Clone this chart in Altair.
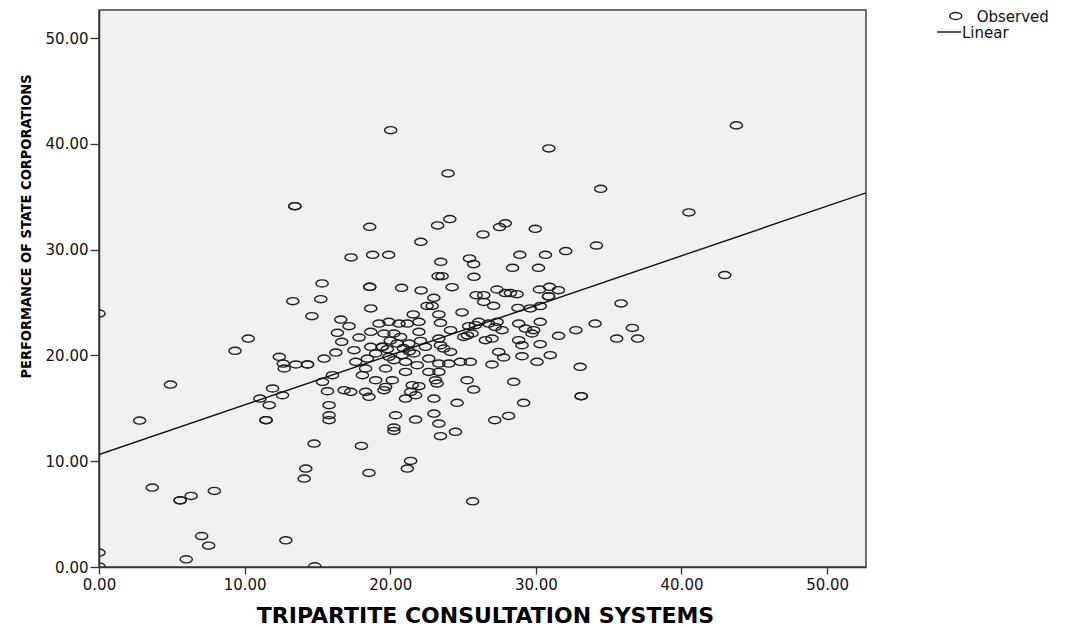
import altair as alt
import pandas as pd

tcs = [
    20.03, 43.77, 30.89, 23.97, 34.45, 40.51, 42.97, 13.45, 13.45, 18.59,
    23.25, 24.09, 22.10, 26.37, 27.51, 27.90, 29.96, 34.16, 17.31, 18.79,
    19.89, 23.47, 25.44, 25.73, 25.75, 23.29, 23.56, 28.90, 30.66, 32.05,
    28.40, 30.18, 15.32, 15.23, 13.31, 18.59, 18.59, 20.78, 22.12, 24.25,
    22.99, 22.53, 22.88, 18.66, 24.93, 14.62, 16.60, 21.58, 23.34, 25.90,
    27.33, 27.90, 28.25, 28.70, 26.42, 26.42, 27.10, 30.25, 30.94, 31.55,
    30.87, 30.87, 28.77, 29.62, 30.30, 35.85,
    17.17, 16.37, 17.86, 16.67, 18.66, 19.23, 19.91, 20.60, 21.17, 21.97,
    23.45, 24.14, 25.39, 25.85, 19.57, 20.25, 20.71, 21.97, 22.08, 21.28,
    20.48, 19.45, 19.45, 18.66, 17.51, 16.26, 15.46, 14.32, 14.32, 13.52,
    12.65, 12.72, 12.38, 17.63, 18.43, 19.00, 19.91, 20.82, 21.62, 22.42,
    23.45, 23.68, 24.14, 25.05, 25.62, 22.65, 23.34, 24.02, 24.82, 25.50,
    21.85, 21.05, 20.25, 19.68, 18.31, 18.09, 16.03, 15.35, 19.00, 20.14,
    19.68, 19.57, 18.54, 18.31, 17.29, 16.83, 15.69, 12.60, 21.05, 22.65,
    23.34, 23.11, 23.22, 21.51, 21.97, 21.40, 21.74, 21.05, 23.00, 24.59,
    25.28, 25.73, 15.80, 15.80, 15.80, 20.37, 21.74, 23.00, 23.34, 23.45,
    24.48, 20.25, 20.25, 14.77, 18.02, 21.40, 21.17, 14.20, 18.54, 14.09,
    26.08, 26.76, 27.34, 27.68, 26.54, 26.99, 28.82, 29.28, 29.85, 29.73,
    30.30, 28.82, 29.05, 30.30, 31.56, 32.75, 34.07, 35.55, 36.63, 36.99,
    27.45, 27.79, 29.05, 30.08, 30.99, 26.99, 33.04, 28.48, 29.16, 33.11,
    33.11, 28.13, 27.18,
    0.00, 9.34, 10.25, 4.91, 2.79, 3.66, 5.57, 5.57, 6.33, 7.92,
    7.05, 7.53, 5.99, 0.00, 0.00, 12.83, 14.82, 11.47, 11.47, 11.69,
    11.05, 11.92, 25.66, 27.20, 25.30, 23.34, 20.00, 19.80, 20.90, 21.30,
]
perf = [
    41.31, 41.76, 39.58, 37.22, 35.76, 33.53, 27.60, 34.12, 34.12, 32.17,
    32.30, 32.90, 30.75, 31.45, 32.14, 32.50, 31.98, 30.40, 29.27, 29.52,
    29.52, 28.86, 29.18, 28.64, 27.44, 27.50, 27.50, 29.52, 29.52, 29.87,
    28.29, 28.29, 26.81, 25.33, 25.14, 26.49, 26.49, 26.40, 26.15, 26.46,
    25.45, 24.69, 24.69, 24.45, 24.07, 23.72, 23.40, 23.88, 23.88, 25.70,
    26.24, 25.90, 25.90, 25.80, 25.70, 25.07, 24.70, 26.24, 26.49, 26.18,
    25.60, 25.60, 24.50, 24.45, 24.67, 24.92,
    22.77, 22.14, 21.70, 21.29, 22.24, 23.02, 23.18, 23.02, 23.02, 23.18,
    23.09, 22.39, 22.77, 22.87, 22.08, 22.08, 21.76, 22.24, 21.38, 21.13,
    21.13, 20.82, 20.82, 20.82, 20.50, 20.28, 19.71, 19.15, 19.15, 19.15,
    19.24, 18.77, 19.87, 19.40, 19.71, 20.19, 19.87, 20.03, 20.19, 20.82,
    20.97, 20.66, 20.34, 21.76, 22.08, 19.71, 19.24, 19.24, 19.40, 19.40,
    19.08, 19.40, 19.56, 18.77, 18.77, 18.14, 18.14, 17.51, 17.66, 17.66,
    17.03, 16.72, 16.09, 16.56, 16.56, 16.72, 16.62, 16.24, 18.45, 18.45,
    18.45, 17.66, 17.35, 17.19, 17.10, 16.56, 16.24, 15.93, 15.93, 15.52,
    17.66, 16.78, 15.30, 14.35, 13.88, 14.35, 13.94, 14.51, 13.56, 12.37,
    12.78, 13.19, 12.87, 11.67, 11.45, 10.03, 9.31, 9.31, 8.90, 8.36,
    23.18, 23.02, 23.18, 22.39, 21.45, 21.60, 23.02, 22.55, 22.39, 22.08,
    23.18, 21.45, 20.97, 21.07, 21.86, 22.39, 23.02, 21.60, 22.61, 21.60,
    20.34, 19.81, 19.93, 19.40, 20.03, 19.15, 18.93, 17.51, 15.52, 16.15,
    16.15, 14.29, 13.88,
    23.97, 20.44, 21.60, 17.25, 13.85, 7.51, 6.31, 6.31, 6.72, 7.19,
    2.93, 2.02, 0.73, 1.36, 0.05, 2.52, 0.07, 13.88, 13.88, 15.30,
    15.93, 16.88, 6.21, 22.70, 21.90, 21.60, 21.40, 20.60, 20.70, 20.40,
]

# ---- fitted line ----
fit_x = [0.0, 52.67]
fit_y = [10.63, 35.38]

x_ticks = [0, 10, 20, 30, 40, 50]
y_ticks = [0, 10, 20, 30, 40, 50]
legend_labels = ["Observed", "Linear"]

obs = pd.DataFrame({"tcs": tcs, "perf": perf})
fit = pd.DataFrame({"tcs": fit_x, "perf": fit_y})

W, H = 767, 557
# wide ellipse outline drawn with cubic curves (half-width 1, half-height 0.58)
ELLIPSE = ("M-1,0C-1,-0.32,-0.552,-0.58,0,-0.58C0.552,-0.58,1,-0.32,1,0"
           "C1,0.32,0.552,0.58,0,0.58C-0.552,0.58,-1,0.32,-1,0Z")

xscale = alt.Scale(domain=[0, 52.67], nice=False, zero=False)
yscale = alt.Scale(domain=[0, 52.67], nice=False, zero=False)

xaxis = alt.Axis(
    values=x_ticks, format=".2f", grid=False, tickSize=7, labelPadding=3,
    labelFlush=False, labelOverlap=False,
    labelFont="DejaVu Sans", labelFontSize=15, labelColor="#111111",
    domainColor="#333333", domainWidth=1.5, tickColor="#333333", tickWidth=1.3,
    title="TRIPARTITE CONSULTATION SYSTEMS", titleFont="DejaVu Sans",
    titleFontSize=22, titleFontWeight="bold", titleColor="#000000",
    titleX=386, titleY=55, titleAlign="center", titleBaseline="alphabetic",
)
yaxis = alt.Axis(
    values=y_ticks, format=".2f", grid=False, tickSize=9, labelPadding=2,
    labelFlush=False, labelOverlap=False,
    labelFont="DejaVu Sans", labelFontSize=15, labelColor="#111111",
    domainColor="#333333", domainWidth=1.5, tickColor="#333333", tickWidth=1.3,
    title="PERFORMANCE OF STATE CORPORATIONS",
    titleFont="DejaVu Sans Condensed, Liberation Sans, sans-serif",
    titleFontSize=14.5, titleFontWeight="bold", titleColor="#000000",
    titleAngle=270, titleX=-69, titleY=216, titleAlign="center",
    titleBaseline="alphabetic",
)

points = alt.Chart(obs).mark_point(
    shape=ELLIPSE, size=150, filled=False, stroke="#1e1e1e", strokeWidth=1.4,
    opacity=1, clip=True,
).encode(
    x=alt.X("tcs:Q", scale=xscale, axis=xaxis),
    y=alt.Y("perf:Q", scale=yscale, axis=yaxis),
)

line = alt.Chart(fit).mark_line(color="#111111", strokeWidth=1.4, clip=True).encode(
    x=alt.X("tcs:Q", scale=xscale),
    y=alt.Y("perf:Q", scale=yscale),
)

leg1 = pd.DataFrame({"label": [legend_labels[0]]})
leg2 = pd.DataFrame({"label": [legend_labels[1]]})

leg_pt = alt.Chart(leg1).mark_point(
    shape=ELLIPSE, size=150, filled=False, stroke="#1e1e1e", strokeWidth=1.4, opacity=1
).encode(x=alt.value(856.7), y=alt.value(6))
leg_t1 = alt.Chart(leg1).mark_text(
    align="left", baseline="middle", font="DejaVu Sans", fontSize=15, color="#111111"
).encode(x=alt.value(877.7), y=alt.value(6.5), text="label:N")
leg_rule = alt.Chart(leg2).mark_rule(color="#111111", strokeWidth=1.4).encode(
    x=alt.value(838), x2=alt.value(862), y=alt.value(22)
)
leg_t2 = alt.Chart(leg2).mark_text(
    align="left", baseline="middle", font="DejaVu Sans", fontSize=15, color="#111111"
).encode(x=alt.value(863), y=alt.value(22.5), text="label:N")

chart = alt.layer(points, line, leg_pt, leg_t1, leg_rule, leg_t2).properties(
    width=W, height=H,
    autosize=alt.AutoSizeParams(type="none"),
    padding={"left": 99, "top": 10, "right": 206, "bottom": 59},
    background="white",
).configure_view(
    fill="#F0F0F0", stroke="#444444", strokeWidth=1.5,
)

chart.save("out.html", embed_options={"renderer": "svg", "actions": False})
